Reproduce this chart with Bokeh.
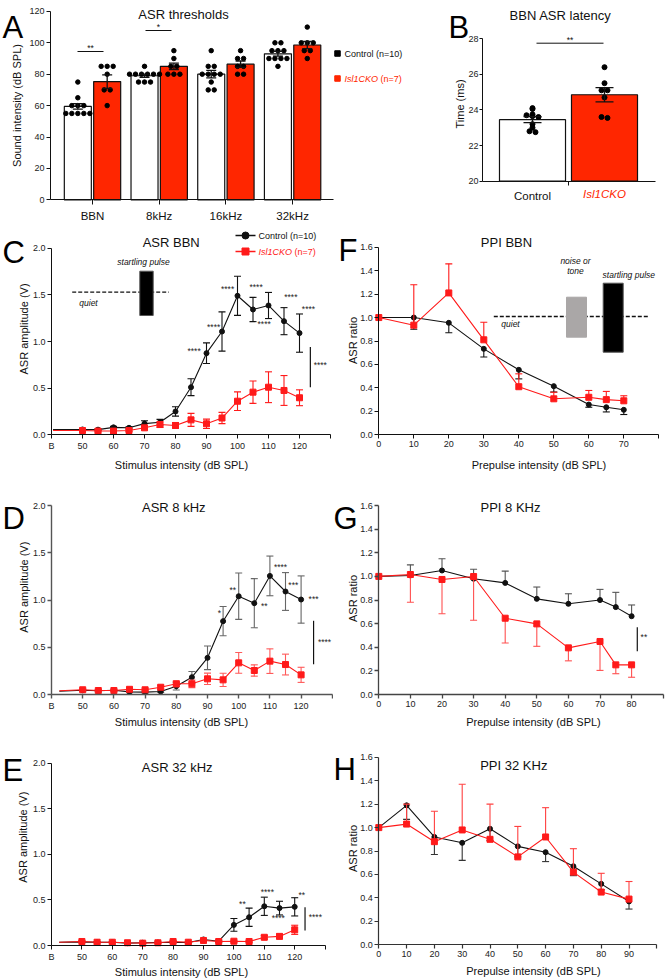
import numpy as np
from bokeh.plotting import figure
from bokeh.models import Range1d, FixedTicker, NumeralTickFormatter, Label
from bokeh.layouts import column, row
from bokeh.embed import file_html
from bokeh.resources import INLINE

FONT = "Liberation Sans"
BAR_RED = "#ff2600"
LINE_RED = "#ff1a1a"

# ------------------------------------------------------------------ data
cats_A = ["BBN", "8kHz", "16kHz", "32kHz"]
ctrl_A_mean = [59.5, 79.0, 80.0, 93.0]
ctrl_A_sem = [1.8, 1.0, 2.4, 1.5]
ko_A_mean = [75.3, 85.0, 86.4, 98.6]
ko_A_sem = [4.3, 2.0, 2.0, 2.3]
ctrl_A_pts = [[75, 65, 60, 60, 60, 55, 55, 55, 55, 55],
              [85, 80, 80, 80, 80, 80, 80, 75, 75, 75],
              [95, 85, 85, 80, 80, 80, 80, 75, 70, 70],
              [100, 100, 95, 95, 95, 90, 90, 90, 90, 85]]
ko_A_pts = [[85, 85, 85, 80, 70, 70, 60],
            [95, 90, 85, 85, 80, 80, 80],
            [95, 90, 90, 85, 85, 80, 80],
            [110, 100, 100, 100, 95, 95, 90]]

groups_B = ["Control", "Isl1CKO"]
mean_B = [23.45, 24.85]
sem_B = [0.17, 0.40]
ctrl_B_pts = [24.1, 24.05, 23.75, 23.7, 23.65, 23.6, 23.2, 23.0, 22.8, 22.75]
ko_B_pts = [26.4, 25.5, 25.1, 25.1, 24.7, 23.6, 23.55]

# ASR BBN (C)
x_C = [40.5, 50, 55, 60, 65, 70, 75, 80, 85, 90, 95, 100, 105, 110, 115, 120]
ctrl_C = [0.055, 0.057, 0.055, 0.08, 0.075, 0.12, 0.135, 0.25, 0.51, 0.875, 1.107, 1.49, 1.343, 1.386, 1.218, 1.09]
ctrl_C_err = [0, 0.01, 0.01, 0.01, 0.01, 0.03, 0.03, 0.05, 0.09, 0.11, 0.21, 0.21, 0.13, 0.14, 0.145, 0.205]
ko_C = [0.046, 0.046, 0.04, 0.04, 0.046, 0.075, 0.11, 0.1, 0.16, 0.118, 0.18, 0.36, 0.457, 0.51, 0.475, 0.397]
ko_C_err = [0, 0.01, 0.01, 0.01, 0.01, 0.02, 0.03, 0.03, 0.07, 0.05, 0.06, 0.1, 0.12, 0.165, 0.16, 0.085]

# ASR 8 kHz (D)
x_D = [42.5, 50, 55, 60, 65, 70, 75, 80, 85, 90, 95, 100, 105, 110, 115, 120]
ctrl_D = [0.035, 0.045, 0.04, 0.045, 0.028, 0.025, 0.032, 0.088, 0.183, 0.388, 0.776, 1.04, 0.966, 1.255, 1.09, 1.005]
ctrl_D_err = [0, 0.01, 0.01, 0.01, 0.01, 0.01, 0.01, 0.04, 0.06, 0.125, 0.155, 0.245, 0.26, 0.21, 0.2, 0.25]
ko_D = [0.04, 0.05, 0.042, 0.042, 0.055, 0.05, 0.077, 0.113, 0.113, 0.166, 0.155, 0.335, 0.254, 0.353, 0.317, 0.208]
ko_D_err = [0, 0.01, 0.01, 0.01, 0.01, 0.01, 0.02, 0.03, 0.04, 0.06, 0.07, 0.11, 0.06, 0.13, 0.11, 0.08]

# ASR 32 kHz (E)
x_E = [42.5, 50, 55, 60, 65, 70, 75, 80, 85, 90, 95, 100, 105, 110, 115, 120]
ctrl_E = [0.036, 0.04, 0.036, 0.036, 0.026, 0.03, 0.033, 0.036, 0.033, 0.066, 0.047, 0.226, 0.31, 0.43, 0.41, 0.424]
ctrl_E_err = [0, 0.005, 0.005, 0.005, 0.005, 0.005, 0.005, 0.005, 0.005, 0.01, 0.01, 0.07, 0.1, 0.1, 0.075, 0.1]
ko_E = [0.036, 0.044, 0.036, 0.036, 0.03, 0.026, 0.03, 0.044, 0.036, 0.055, 0.044, 0.047, 0.044, 0.09, 0.1, 0.172]
ko_E_err = [0, 0.01, 0.005, 0.005, 0.005, 0.005, 0.005, 0.01, 0.005, 0.01, 0.005, 0.01, 0.01, 0.02, 0.025, 0.05]

# PPI BBN (F)
x_F = [0, 10, 20, 30, 40, 50, 60, 65, 70]
ctrl_F = [1.0, 1.0, 0.955, 0.733, 0.554, 0.415, 0.258, 0.235, 0.213]
ctrl_F_err = [0, 0.1, 0.085, 0.07, 0.077, 0.05, 0.023, 0.04, 0.04]
ko_F = [1.0, 0.935, 1.21, 0.81, 0.41, 0.307, 0.32, 0.30, 0.29]
ko_F_err = [0, 0.345, 0.248, 0.15, 0.11, 0.056, 0.058, 0.07, 0.043]

# PPI 8 KHz (G)
x_G = [0, 10, 20, 30, 40, 50, 60, 70, 75, 80]
ctrl_G = [1.0, 1.008, 1.05, 0.98, 0.945, 0.81, 0.768, 0.8, 0.74, 0.663]
ctrl_G_err = [0, 0.09, 0.1, 0.08, 0.1, 0.1, 0.085, 0.09, 0.125, 0.095]
ko_G = [1.0, 1.016, 0.974, 0.999, 0.646, 0.598, 0.395, 0.449, 0.251, 0.251]
ko_G_err = [0, 0.235, 0.29, 0.37, 0.21, 0.19, 0.11, 0.245, 0.075, 0.105]

# PPI 32 KHz (H)
x_H = [0, 10, 20, 30, 40, 50, 60, 70, 80, 90]
ctrl_H = [1.0, 1.19, 0.92, 0.87, 0.99, 0.84, 0.79, 0.67, 0.52, 0.37]
ctrl_H_err = [0, 0.12, 0.15, 0.15, 0.1, 0.09, 0.08, 0.08, 0.05, 0.065]
ko_H = [1.0, 1.03, 0.88, 0.98, 0.9, 0.75, 0.92, 0.62, 0.45, 0.39]
ko_H_err = [0, 0.17, 0.26, 0.39, 0.3, 0.26, 0.25, 0.2, 0.16, 0.15]

# significance marks (data coordinates)
stars_C = [(86, 0.9, "****"), (92.3, 1.16, "****"), (96.8, 1.565, "****"), (106, 1.58, "****"),
           (108.6, 1.19, "****"), (117.2, 1.475, "****"), (122.9, 1.343, "****"), (126.7, 0.75, "****")]
sig_C = (123.5, 0.51, 0.94)
stars_D = [(93.8, 0.86, "*"), (98.1, 1.11, "**"), (108.2, 0.94, "**"), (113.4, 1.35, "****"),
           (117.5, 1.16, "***"), (124, 1.01, "***"), (127.5, 0.56, "****")]
sig_D = (124, 0.32, 0.78)
stars_E = [(102.8, 0.457, "**"), (111, 0.59, "****"), (114.6, 0.3, "****"), (122.3, 0.55, "**"),
           (126.8, 0.31, "****")]
sig_E = (123.4, 0.165, 0.42)
stars_G = [(83.9, 0.49, "**")]
sig_G = (81.8, 0.367, 0.57)


# ------------------------------------------------------------------ geometry
class Geo:
    """Canvas at page (cx, cy), size w x h. The axes cross at page
    (cx + ax_left, cy + h - ax_bottom), where the data values are x0 / y0."""
    def __init__(s, cx, cy, w, h, ax_left, ax_bottom, x0, xppu, y0, yppu):
        s.w, s.h = w, h
        s.fl = cx + ax_left
        s.fb = cy + h - ax_bottom
        s.x0, s.xppu, s.y0, s.yppu = x0, xppu, y0, yppu
        s.xr = (x0 - ax_left / xppu, x0 + (w - ax_left) / xppu)
        s.yr = (y0 - ax_bottom / yppu, y0 + (h - ax_bottom) / yppu)

    def dx(s, px):
        return s.x0 + (px - s.fl) / s.xppu

    def dy(s, py):
        return s.y0 + (s.fb - py) / s.yppu


LW, RW = 333, 334          # column widths
H1, H2, H3, H4 = 224, 248, 259, 248
Y2, Y3, Y4 = H1, H1 + H2, H1 + H2 + H3

gA = Geo(0, 0, 410, H1, 50, H1 - 199.3, (50 - 92) / 66.7, 66.7, 0, 1.57)
gB = Geo(410, 0, 257, H1, 72, H1 - 180.6, (482 - 532) / 72.0, 72.0, 20, 17.8)
gC = Geo(0, Y2, LW, H2, 51, Y3 - 434.3, 40, 3.1, 0, 93.3)
gF = Geo(LW, Y2, RW, H2, 378.3 - LW, Y3 - 434.3, 0, 3.5, 0, 117.25)
gD = Geo(0, Y3, LW, H3, 51, Y4 - 694, 40, 3.12, 0, 94.5)
gG = Geo(LW, Y3, RW, H3, 378.3 - LW, Y4 - 694, 0, 3.16, 0, 118.1)
gE = Geo(0, Y4, LW, H4, 51, 979 - 945, 40, 3.04, 0, 91.2)
gH = Geo(LW, Y4, RW, H4, 378.3 - LW, 979 - 944.3, 0, 2.78, 0, 117.2)


def make_fig(g, axcol="#111", axw=1.0):
    p = figure(width=g.w, height=g.h, x_range=Range1d(*g.xr), y_range=Range1d(*g.yr),
               output_backend="svg", toolbar_location=None, title=None, min_border=0)
    p.outline_line_color = None
    p.xgrid.visible = False
    p.ygrid.visible = False
    p.xaxis.fixed_location = g.y0
    p.yaxis.fixed_location = g.x0
    for ax in (p.xaxis[0], p.yaxis[0]):
        ax.axis_line_color = axcol
        ax.axis_line_width = axw
        ax.major_tick_line_color = axcol
        ax.major_tick_line_width = axw
        ax.minor_tick_line_color = None
        ax.major_tick_out = 4
        ax.major_tick_in = 0
        ax.major_label_text_font = FONT
        ax.major_label_text_font_size = "9px"
        ax.major_label_text_color = "#222"
        ax.major_label_standoff = 2
    return p


def lab(p, x, y, s, size, color="#111", style="normal", align="center", baseline="middle", angle=0.0):
    p.add_layout(Label(x=x, y=y, text=s, text_font=FONT, text_font_size=f"{size}px",
                       text_color=color, text_font_style=style, text_align=align,
                       text_baseline=baseline, angle=angle))


def letter(p, g, px, py, s):
    lab(p, g.dx(px), g.dy(py), s, 31, color="black", align="left", baseline="alphabetic")


def ylabel(p, g, px, py, s):
    lab(p, g.dx(px), g.dy(py), s, 11, color="#111", angle=np.pi / 2)


def xlabel(p, g, px, py, s):
    lab(p, g.dx(px), g.dy(py), s, 11, color="#111")


def errorbars(p, g, xs, ys, es, mode, color, alpha=1.0, cap_px=3.5, lw=1.1):
    cw = cap_px / g.xppu
    vx, vy0, vy1, cx0, cx1, cy = [], [], [], [], [], []
    for x, y, e in zip(xs, ys, es):
        if e <= 0:
            continue
        lo = y - e if mode in ("both", "down") else y
        hi = y + e if mode in ("both", "up") else y
        vx.append(x); vy0.append(lo); vy1.append(hi)
        if mode in ("both", "up"):
            cx0.append(x - cw); cx1.append(x + cw); cy.append(hi)
        if mode in ("both", "down"):
            cx0.append(x - cw); cx1.append(x + cw); cy.append(lo)
    p.segment(x0=vx, y0=vy0, x1=vx, y1=vy1, line_color=color, line_width=lw, line_alpha=alpha)
    p.segment(x0=cx0, y0=cy, x1=cx1, y1=cy, line_color=color, line_width=lw, line_alpha=alpha)


def curve(p, xs, ys, color, marker, size, first_marker=True):
    p.line(xs, ys, line_color=color, line_width=1.1)
    i0 = 0 if first_marker else 1
    p.scatter(list(xs[i0:]), list(ys[i0:]), marker=marker, size=size, fill_color=color, line_color=color)


def spread(vals, center, step, binw):
    groups = {}
    for v in vals:
        groups.setdefault(int(np.floor(v / binw + 0.5)), []).append(v)
    xs, ys = [], []
    for k in sorted(groups):
        vs = groups[k]
        n = len(vs)
        for j, v in enumerate(vs):
            xs.append(center + (j - (n - 1) / 2) * step)
            ys.append(v)
    return xs, ys


def stars(p, lst, size=8.5):
    for x, y, s in lst:
        lab(p, x, y, s, size, color="#222")


def sigline(p, sig):
    x, y0, y1 = sig
    p.segment(x0=[x], y0=[y0], x1=[x], y1=[y1], line_color="#111", line_width=1.2)


def asr_axes(p, g):
    p.xaxis.ticker = FixedTicker(ticks=[40, 50, 60, 70, 80, 90, 100, 110, 120, 130])
    p.xaxis.major_label_overrides = {40: "B", 130: ""}
    p.xaxis.bounds = (g.x0, 130)
    p.yaxis.ticker = FixedTicker(ticks=[0, 0.5, 1.0, 1.5, 2.0])
    p.yaxis.formatter = NumeralTickFormatter(format="0.0")
    p.yaxis.bounds = (0, 2.0)


def ppi_axes(p, xmax):
    p.xaxis.ticker = FixedTicker(ticks=list(range(0, xmax + 1, 10)))
    p.xaxis.major_label_overrides = {xmax: ""}
    p.xaxis.bounds = (0, xmax)
    p.yaxis.ticker = FixedTicker(ticks=[0, 0.2, 0.4, 0.6, 0.8, 1.0, 1.2, 1.4, 1.6])
    p.yaxis.formatter = NumeralTickFormatter(format="0.0")
    p.yaxis.bounds = (0, 1.6)


# ------------------------------------------------------------------ A
pA = make_fig(gA)
xi = np.arange(len(cats_A))
off, bw = 0.22, 0.405
pA.vbar(x=xi - off, top=ctrl_A_mean, bottom=0, width=bw, fill_color="white", line_color="#111", line_width=1.2)
pA.vbar(x=xi + off, top=ko_A_mean, bottom=0, width=bw, fill_color=BAR_RED, line_color="#111", line_width=1.2)
for i in range(len(cats_A)):
    xs, ys = spread(ctrl_A_pts[i], i - off, 0.09, 2.5)
    pA.scatter(xs, ys, size=4.5, color="black")
    xs, ys = spread(ko_A_pts[i], i + off, 0.09, 2.5)
    pA.scatter(xs, ys, size=4.5, color="black")
errorbars(pA, gA, xi - off, ctrl_A_mean, ctrl_A_sem, "both", "#111", cap_px=5, lw=1.3)
errorbars(pA, gA, xi + off, ko_A_mean, ko_A_sem, "both", "#111", cap_px=5, lw=1.3)
pA.xaxis.ticker = FixedTicker(ticks=list(range(len(cats_A))))
pA.xaxis.major_label_overrides = {i: c for i, c in enumerate(cats_A)}
pA.xaxis.major_label_text_font_size = "11.5px"
pA.xaxis.major_label_text_color = "#111"
pA.xaxis.major_tick_out = 5
pA.xaxis.major_label_standoff = 5
pA.xaxis.bounds = (gA.x0, gA.dx(333))
pA.yaxis.ticker = FixedTicker(ticks=[0, 20, 40, 60, 80, 100, 120])
pA.yaxis.bounds = (0, 120)
pA.segment(x0=[gA.dx(77), gA.dx(145)], y0=[gA.dy(51), gA.dy(30)],
           x1=[gA.dx(103), gA.dx(171)], y1=[gA.dy(51), gA.dy(30)], line_color="#111", line_width=1)
lab(pA, gA.dx(90), gA.dy(47), "**", 8.5)
lab(pA, gA.dx(158), gA.dy(26), "*", 8.5)
lab(pA, gA.dx(183), gA.dy(14), "ASR thresholds", 13)
pA.scatter([gA.dx(337)], [gA.dy(53)], marker="square", size=5.5, color="black")
pA.scatter([gA.dx(337)], [gA.dy(78)], marker="square", size=5.5, color=BAR_RED)
lab(pA, gA.dx(344), gA.dy(53), "Control (n=10)", 9, align="left")
lab(pA, gA.dx(344), gA.dy(78), "Isl1CKO", 9, color=BAR_RED, style="italic", align="left")
lab(pA, gA.dx(380), gA.dy(78), "(n=7)", 9, color=BAR_RED, align="left")
letter(pA, gA, 2, 27, "A")
ylabel(pA, gA, 16.5, 105, "Sound intensity (dB SPL)")

# ------------------------------------------------------------------ B
pB = make_fig(gB)
xb = np.arange(len(groups_B))
pB.vbar(x=xb, top=mean_B, bottom=20, width=0.917, fill_color=["white", BAR_RED],
        line_color="#111", line_width=1.2)
xs, ys = spread(ctrl_B_pts, 0, 0.083, 0.2)
pB.scatter(xs, ys, size=5, color="black")
xs, ys = spread(ko_B_pts, 1, 0.083, 0.2)
pB.scatter(xs, ys, size=5, color="black")
errorbars(pB, gB, xb, mean_B, sem_B, "both", "#111", cap_px=9, lw=1.3)
pB.xaxis.ticker = FixedTicker(ticks=[0, 1], minor_ticks=[0.5])
pB.xaxis.major_label_overrides = {0: groups_B[0], 1: " "}
pB.xaxis.major_tick_out = 0
pB.xaxis.minor_tick_line_color = "#111"
pB.xaxis.minor_tick_out = 4
pB.xaxis.minor_tick_in = 0
pB.xaxis.major_label_text_font_size = "11.5px"
pB.xaxis.major_label_text_color = "#111"
pB.xaxis.major_label_standoff = 5
pB.xaxis.bounds = (gB.x0, gB.dx(655))
pB.yaxis.ticker = FixedTicker(ticks=[20, 22, 24, 26, 28])
pB.yaxis.bounds = (20, 28)
pB.yaxis.major_tick_out = 3
pB.yaxis.major_label_standoff = 1
lab(pB, 1, gB.dy(193), groups_B[1], 11.5, color=BAR_RED, style="italic")
pB.segment(x0=[gB.dx(536)], y0=[gB.dy(42.7)], x1=[gB.dx(603)], y1=[gB.dy(42.7)], line_color="#111")
lab(pB, gB.dx(569.5), gB.dy(39), "**", 8.5)
lab(pB, gB.dx(560), gB.dy(15), "BBN ASR latency", 13)
letter(pB, gB, 448, 27, "B")
ylabel(pB, gB, 459, 103.5, "Time (ms)")

# ------------------------------------------------------------------ C
pC = make_fig(gC)
asr_axes(pC, gC)
errorbars(pC, gC, x_C, ctrl_C, ctrl_C_err, "both", "#111")
curve(pC, x_C, ctrl_C, "#111", "circle", 5, first_marker=False)
errorbars(pC, gC, x_C, ko_C, ko_C_err, "both", LINE_RED)
curve(pC, x_C, ko_C, LINE_RED, "square", 6, first_marker=False)
stars(pC, stars_C)
sigline(pC, sig_C)
# legend
pC.segment(x0=[gC.dx(235), gC.dx(235)], y0=[gC.dy(235), gC.dy(251)],
           x1=[gC.dx(255), gC.dx(255)], y1=[gC.dy(235), gC.dy(251)],
           line_color=["#111", LINE_RED], line_width=1.5)
pC.scatter([gC.dx(245)], [gC.dy(235)], marker="circle", size=7, color="#111")
pC.scatter([gC.dx(245)], [gC.dy(251)], marker="square", size=7, color=LINE_RED)
lab(pC, gC.dx(258), gC.dy(235), "Control (n=10)", 9, align="left")
lab(pC, gC.dx(258), gC.dy(251), "Isl1CKO", 9, color=LINE_RED, style="italic", align="left")
lab(pC, gC.dx(294), gC.dy(251), "(n=7)", 9, color=LINE_RED, align="left")
# inset
pC.segment(x0=[gC.dx(71.7)], y0=[gC.dy(291.7)], x1=[gC.dx(168.3)], y1=[gC.dy(291.7)],
           line_color="#111", line_width=1.3, line_dash="4 2")
pC.quad(left=[gC.dx(139.3)], right=[gC.dx(152.7)], bottom=[gC.dy(315)], top=[gC.dy(270.7)],
        fill_color="black", line_color="#555")
lab(pC, gC.dx(143), gC.dy(261.7), "startling pulse", 8.5, style="italic")
lab(pC, gC.dx(88), gC.dy(302), "quiet", 8.5, style="italic")
lab(pC, gC.dx(170.7), gC.dy(241.7), "ASR BBN", 13)
letter(pC, gC, 2, 252, "C")
ylabel(pC, gC, 23, 328.5, "ASR amplitude (V)")
xlabel(pC, gC, 181, 464.3, "Stimulus intensity (dB SPL)")

# ------------------------------------------------------------------ F
pF = make_fig(gF)
ppi_axes(pF, 80)
errorbars(pF, gF, x_F, ctrl_F, ctrl_F_err, "down", "#111")
curve(pF, x_F, ctrl_F, "#111", "circle", 5)
errorbars(pF, gF, x_F, ko_F, ko_F_err, "up", LINE_RED)
curve(pF, x_F, ko_F, LINE_RED, "square", 6)
pF.segment(x0=[gF.dx(493.3)], y0=[gF.dy(316)], x1=[gF.dx(648.3)], y1=[gF.dy(316)],
           line_color="#111", line_width=1.3, line_dash="4 2")
pF.quad(left=[gF.dx(566)], right=[gF.dx(586)], bottom=[gF.dy(336.7)], top=[gF.dy(296.7)],
        fill_color="#aaa7a7", line_color="#aaa7a7")
pF.quad(left=[gF.dx(602.7)], right=[gF.dx(622.7)], bottom=[gF.dy(351.7)], top=[gF.dy(282.7)],
        fill_color="black", line_color="#555")
lab(pF, gF.dx(575), gF.dy(260), "noise or", 8.5, style="italic")
lab(pF, gF.dx(575), gF.dy(270), "tone", 8.5, style="italic")
lab(pF, gF.dx(628.3), gF.dy(274.3), "startling pulse", 8.5, style="italic")
lab(pF, gF.dx(510), gF.dy(323.3), "quiet", 8.5, style="italic")
lab(pF, gF.dx(506), gF.dy(241.7), "PPI BBN", 13)
letter(pF, gF, 338, 250, "F")
ylabel(pF, gF, 352.5, 340, "ASR ratio")
xlabel(pF, gF, 538.5, 464.3, "Prepulse intensity (dB SPL)")

# ------------------------------------------------------------------ D
pD = make_fig(gD, axcol="#555", axw=1.4)
asr_axes(pD, gD)
errorbars(pD, gD, x_D, ctrl_D, ctrl_D_err, "both", "#666")
curve(pD, x_D, ctrl_D, "#111", "circle", 5, first_marker=False)
errorbars(pD, gD, x_D, ko_D, ko_D_err, "both", "#ff5a5a")
curve(pD, x_D, ko_D, LINE_RED, "square", 6, first_marker=False)
stars(pD, stars_D)
sigline(pD, sig_D)
lab(pD, gD.dx(173.3), gD.dy(506.7), "ASR 8 kHz", 13)
letter(pD, gD, 2, 518, "D")
ylabel(pD, gD, 23, 586.7, "ASR amplitude (V)")
xlabel(pD, gD, 181, 721.7, "Stimulus intensity (dB SPL)")

# ------------------------------------------------------------------ G
pG = make_fig(gG, axcol="#444", axw=1.3)
ppi_axes(pG, 90)
errorbars(pG, gG, x_G, ctrl_G, ctrl_G_err, "up", "#555")
curve(pG, x_G, ctrl_G, "#111", "circle", 5)
errorbars(pG, gG, x_G, ko_G, ko_G_err, "down", "#ff5050")
curve(pG, x_G, ko_G, LINE_RED, "square", 6)
stars(pG, stars_G)
sigline(pG, sig_G)
lab(pG, gG.dx(510), gG.dy(506.7), "PPI 8 KHz", 13)
letter(pG, gG, 333, 518, "G")
ylabel(pG, gG, 352, 598, "ASR ratio")
xlabel(pG, gG, 533, 721, "Prepulse intensity (dB SPL)")

# ------------------------------------------------------------------ E
pE = make_fig(gE)
asr_axes(pE, gE)
errorbars(pE, gE, x_E, ctrl_E, ctrl_E_err, "both", "#111")
curve(pE, x_E, ctrl_E, "#111", "circle", 5, first_marker=False)
errorbars(pE, gE, x_E, ko_E, ko_E_err, "both", LINE_RED)
curve(pE, x_E, ko_E, LINE_RED, "square", 6, first_marker=False)
stars(pE, stars_E)
sigline(pE, sig_E)
lab(pE, gE.dx(176.7), gE.dy(766.7), "ASR 32 kHz", 13)
letter(pE, gE, 2, 770, "E")
ylabel(pE, gE, 22, 836.7, "ASR amplitude (V)")
xlabel(pE, gE, 181, 971, "Stimulus intensity (dB SPL)")

# ------------------------------------------------------------------ H
pH = make_fig(gH, axcol="#333", axw=1.2)
ppi_axes(pH, 100)
errorbars(pH, gH, x_H, ctrl_H, ctrl_H_err, "down", "#333")
curve(pH, x_H, ctrl_H, "#111", "circle", 5)
errorbars(pH, gH, x_H, ko_H, ko_H_err, "up", "#ff4040")
curve(pH, x_H, ko_H, LINE_RED, "square", 6)
lab(pH, gH.dx(513.3), gH.dy(765), "PPI 32 KHz", 13)
letter(pH, gH, 333, 769, "H")
ylabel(pH, gH, 352, 848, "ASR ratio")
xlabel(pH, gH, 533, 970, "Prepulse intensity (dB SPL)")

layout = column(row(pA, pB), row(pC, pF), row(pD, pG), row(pE, pH))
open("out.html", "w").write(file_html(layout, INLINE))
